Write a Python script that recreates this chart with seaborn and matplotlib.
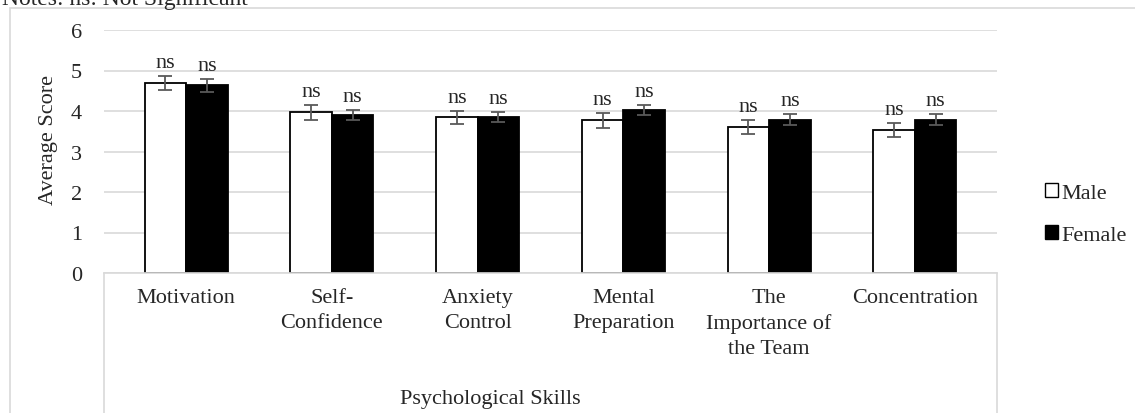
import pandas as pd
import seaborn as sns
import matplotlib.pyplot as plt
from matplotlib.patches import Patch, Rectangle
from matplotlib.lines import Line2D

skills = ['Motivation', 'Self-\nConfidence', 'Anxiety\nControl', 'Mental\nPreparation',
          'The\nImportance of\nthe Team', 'Concentration']
male_mean = [4.69, 3.97, 3.85, 3.77, 3.60, 3.53]
female_mean = [4.63, 3.90, 3.86, 4.02, 3.79, 3.79]
male_err = [0.17, 0.18, 0.16, 0.18, 0.18, 0.17]
female_err = [0.15, 0.13, 0.12, 0.12, 0.14, 0.14]
sig_labels = ['ns', 'ns', 'ns', 'ns', 'ns', 'ns']

df = pd.DataFrame({
    'skill': skills * 2,
    'gender': ['Male'] * len(skills) + ['Female'] * len(skills),
    'score': male_mean + female_mean,
    'err': male_err + female_err,
})

sns.set_style('white')
plt.rcParams['font.family'] = ['Liberation Serif', 'DejaVu Serif']
FS = 16

W, H = 1135, 414
fig = plt.figure(figsize=(W / 100, H / 100), dpi=100)
ax = fig.add_axes([104 / W, 1 - 274 / H, (997 - 104) / W, (274 - 31) / H])

sns.barplot(ax=ax, data=df, x='skill', y='score', hue='gender', order=skills,
            hue_order=['Male', 'Female'], palette={'Male': 'white', 'Female': 'black'},
            width=0.57, errorbar=None, edgecolor='black', linewidth=1.3, legend=False)

# error bars + "ns" labels, positioned from the drawn bars
for cont, errs in zip(ax.containers, [male_err, female_err]):
    for bar, e, lab in zip(cont, errs, sig_labels):
        x = bar.get_x() + bar.get_width() / 2
        y = bar.get_height()
        ax.errorbar(x, y, yerr=e, color='#595959', capsize=5, capthick=1.3,
                    elinewidth=1.3, zorder=5)
        ax.annotate(lab, (x, y + e), xytext=(0, 9), textcoords='offset pixels',
                    ha='center', va='baseline', fontsize=FS)

ax.set_ylim(0, 6)
ax.set_yticks(range(7))
ax.yaxis.grid(True, color='#d9d9d9', linewidth=1.2)
ax.set_axisbelow(True)
for s in ['top', 'left', 'right']:
    ax.spines[s].set_visible(False)
ax.spines['bottom'].set_color('#d9d9d9')
ax.spines['bottom'].set_linewidth(1.2)
ax.tick_params(axis='y', length=0, pad=16, labelsize=FS)
ax.tick_params(axis='x', length=0, pad=11, labelsize=FS)
for t in ax.get_xticklabels():
    t.set_linespacing(1.4)
    t.set_ha('center')

ax.set_xlabel('')
ax.set_ylabel('Average Score', fontsize=FS)
ax.yaxis.set_label_coords(-0.052, 0.55)
fig.text(490 / W, 1 - 400 / H, 'Psychological Skills', ha='center', va='center', fontsize=FS)

# category box lines below the axis
for xa in [0, 1]:
    ax.add_line(Line2D([xa, xa], [0, -1], transform=ax.transAxes, color='#d9d9d9',
                       linewidth=1.2, clip_on=False))

# outer chart frame
fig.patches.append(Rectangle((10 / W, -0.2), 2, 1.2 - 9 / H, transform=fig.transFigure,
                             fill=False, edgecolor='#d9d9d9', linewidth=1.2))

handles = [Patch(facecolor='white', edgecolor='black', label='Male'),
           Patch(facecolor='black', edgecolor='black', label='Female')]
fig.legend(handles=handles, loc='center left', bbox_to_anchor=(1025 / W, 1 - 215 / H),
           frameon=False, fontsize=FS, handlelength=0.6, handleheight=0.6,
           handletextpad=0.15, labelspacing=1.0)

fig.text(2 / W, 1 - 5 / H, 'Notes: ns: Not Significant', ha='left', va='baseline', fontsize=17)

plt.savefig('out.png', dpi=100)
